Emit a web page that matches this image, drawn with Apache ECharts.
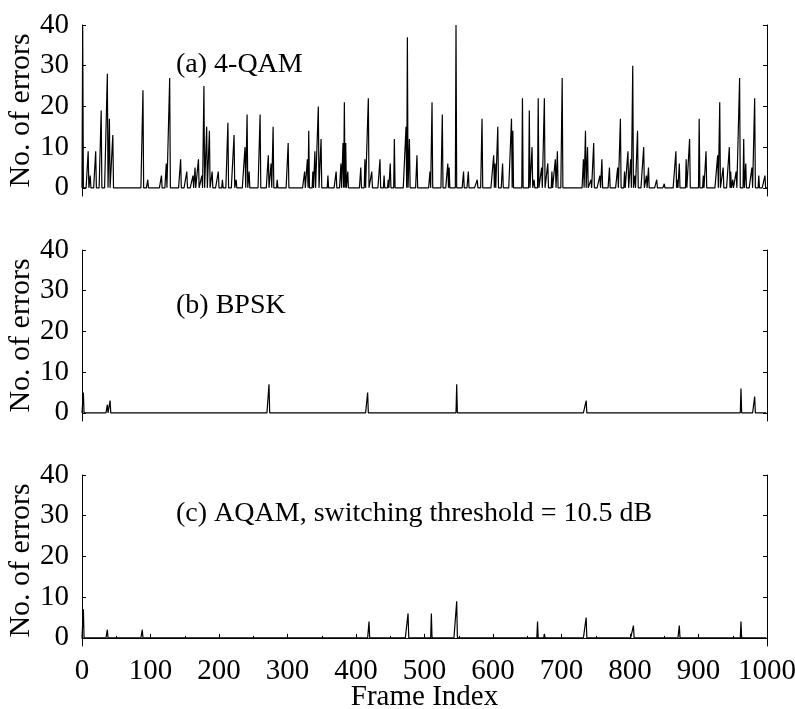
<!DOCTYPE html>
<html>
<head>
<meta charset="utf-8">
<style>
  html, body { margin: 0; padding: 0; background: #fff; }
  #container { width: 795px; height: 709px; }
</style>
<script src="https://cdn.jsdelivr.net/npm/echarts@6.0.0/dist/echarts.min.js"></script>
</head>
<body>
<div id="container"></div>
<script>
// frame indices where errors occurred, and the number of errors there
var qamFrames = [1, 9, 12, 20, 28, 37, 40, 45, 89, 96, 116, 123, 128, 144, 153, 162, 165, 170, 175, 178,
    182, 186, 190, 199, 205, 213, 222, 225, 238, 241, 244, 260, 272, 276, 279, 285, 301, 325, 329, 331,
    337, 340, 345, 349, 359, 371, 378, 381, 383, 385, 388, 407, 413, 418, 423, 435, 441, 447, 450, 456,
    473, 475, 478, 489, 508, 511, 526, 534, 536, 546, 557, 564, 577, 584, 601, 603, 607, 614, 627, 629,
    643, 653, 657, 660, 666, 671, 675, 680, 686, 691, 694, 701, 732, 735, 738, 743, 747, 756, 759, 770,
    782, 786, 792, 797, 801, 804, 807, 811, 820, 824, 827, 839, 850, 867, 869, 872, 882, 887, 901, 907,
    911, 928, 931, 936, 945, 947, 950, 955, 960, 966, 969, 978, 982, 988, 997];
var qamErrors = [40, 9, 3, 9, 19, 28, 17, 13, 24, 2, 3, 6, 27, 7, 4, 3, 5, 7, 3, 25,
    15, 14, 4, 4, 2, 16, 13, 2, 10, 18, 4, 18, 8, 6, 15, 2, 11, 4, 7, 14,
    4, 9, 20, 12, 3, 4, 6, 11, 21, 11, 4, 5, 7, 22, 4, 7, 3, 2, 6, 12,
    15, 37, 12, 8, 4, 21, 18, 6, 5, 40, 4, 4, 2, 17, 8, 6, 15, 6, 17, 14,
    22, 19, 10, 2, 22, 5, 22, 6, 4, 7, 9, 27, 7, 14, 10, 2, 11, 3, 7, 5,
    5, 17, 4, 9, 7, 30, 3, 14, 10, 3, 5, 2, 1, 9, 2, 6, 7, 12, 17, 3,
    9, 8, 21, 5, 10, 4, 2, 4, 27, 12, 6, 5, 22, 3, 3];

var bpskFrames = [2, 37, 41, 273, 417, 547, 736, 962, 982];
var bpskErrors = [5, 2, 3, 7, 5, 7, 3, 6, 4];

var aqamFrames = [2, 37, 88, 419, 476, 510, 547, 665, 675, 736, 805, 872, 962];
var aqamErrors = [7, 2, 2, 4, 6, 6, 9, 4, 1, 5, 3, 3, 4];

var panelNames = ['(a) 4-QAM', '(b) BPSK', '(c) AQAM, switching threshold = 10.5 dB'];
var yTickValues = [0, 10, 20, 30, 40];
var frameCount = 1000;

var font = "'Liberation Serif', 'Times New Roman', serif";

// every frame gets a value, zero where no error was counted
function buildSeries(frames, errors) {
    var arr = [];
    for (var i = 0; i <= frameCount; i++) {
        arr.push([i, 0]);
    }
    for (var k = 0; k < frames.length; k++) {
        arr[frames[k]][1] = errors[k];
    }
    return arr;
}

var panels = [
    { data: buildSeries(qamFrames, qamErrors), top: 25, labelTop: 51 },
    { data: buildSeries(bpskFrames, bpskErrors), top: 250, labelTop: 292 },
    { data: buildSeries(aqamFrames, aqamErrors), top: 475, labelTop: 500 }
];

var grids = [], xAxes = [], yAxes = [], series = [], titles = [];

panels.forEach(function (p, i) {
    var last = (i == panels.length - 1);
    grids.push({ left: 82, width: 685, top: p.top, height: 171, outerBoundsMode: 'none', containLabel: false });
    xAxes.push({
        type: 'value', gridIndex: i, min: 0, max: frameCount, interval: 100,
        splitLine: { show: false },
        axisLine: { show: last, lineStyle: { color: '#000', width: 1 } },
        axisTick: { show: last, inside: true, length: 4, lineStyle: { color: '#000' } },
        minorTick: { show: last, splitNumber: 2, length: 2, lineStyle: { color: '#000' } },
        axisLabel: {
            show: last, color: '#000', fontFamily: font, fontSize: 29, margin: 11,
            formatter: function (v) { return String(v); }
        },
        name: last ? 'Frame Index' : '',
        nameLocation: 'middle', nameGap: 37, nameMoveOverlap: false,
        nameTextStyle: { color: '#000', fontFamily: font, fontSize: 29 }
    });
    yAxes.push({
        type: 'value', gridIndex: i, min: -2, max: 40, position: 'left',
        splitLine: { show: false },
        axisLine: { show: true, onZero: false, lineStyle: { color: '#000', width: 1 } },
        axisTick: { show: true, inside: true, length: 4, customValues: yTickValues, lineStyle: { color: '#000' } },
        axisLabel: { color: '#000', fontFamily: font, fontSize: 29, margin: 13, customValues: yTickValues },
        name: 'No. of errors', nameLocation: 'middle', nameGap: 46, nameRotate: 90, nameMoveOverlap: false,
        nameTextStyle: { color: '#000', fontFamily: font, fontSize: 30 }
    });
    yAxes.push({
        type: 'value', gridIndex: i, min: -2, max: 40, position: 'right',
        splitLine: { show: false },
        axisLine: { show: true, onZero: false, lineStyle: { color: '#000', width: 1 } },
        axisTick: { show: true, inside: true, length: 4, customValues: yTickValues, lineStyle: { color: '#000' } },
        axisLabel: { show: false }
    });
    series.push({
        type: 'line', xAxisIndex: i, yAxisIndex: i * 2,
        data: p.data, showSymbol: false, symbol: 'none', sampling: null,
        lineStyle: { color: '#000', width: 1.2 },
        silent: true
    });
    titles.push({
        text: panelNames[i], left: 176, top: p.labelTop, padding: 0,
        textStyle: { color: '#000', fontFamily: font, fontSize: 28, fontWeight: 'normal' }
    });
});

var chart = echarts.init(document.getElementById('container'), null, { renderer: 'canvas' });
chart.setOption({
    animation: false,
    backgroundColor: '#fff',
    title: titles,
    grid: grids,
    xAxis: xAxes,
    yAxis: yAxes,
    series: series
});
</script>
</body>
</html>
